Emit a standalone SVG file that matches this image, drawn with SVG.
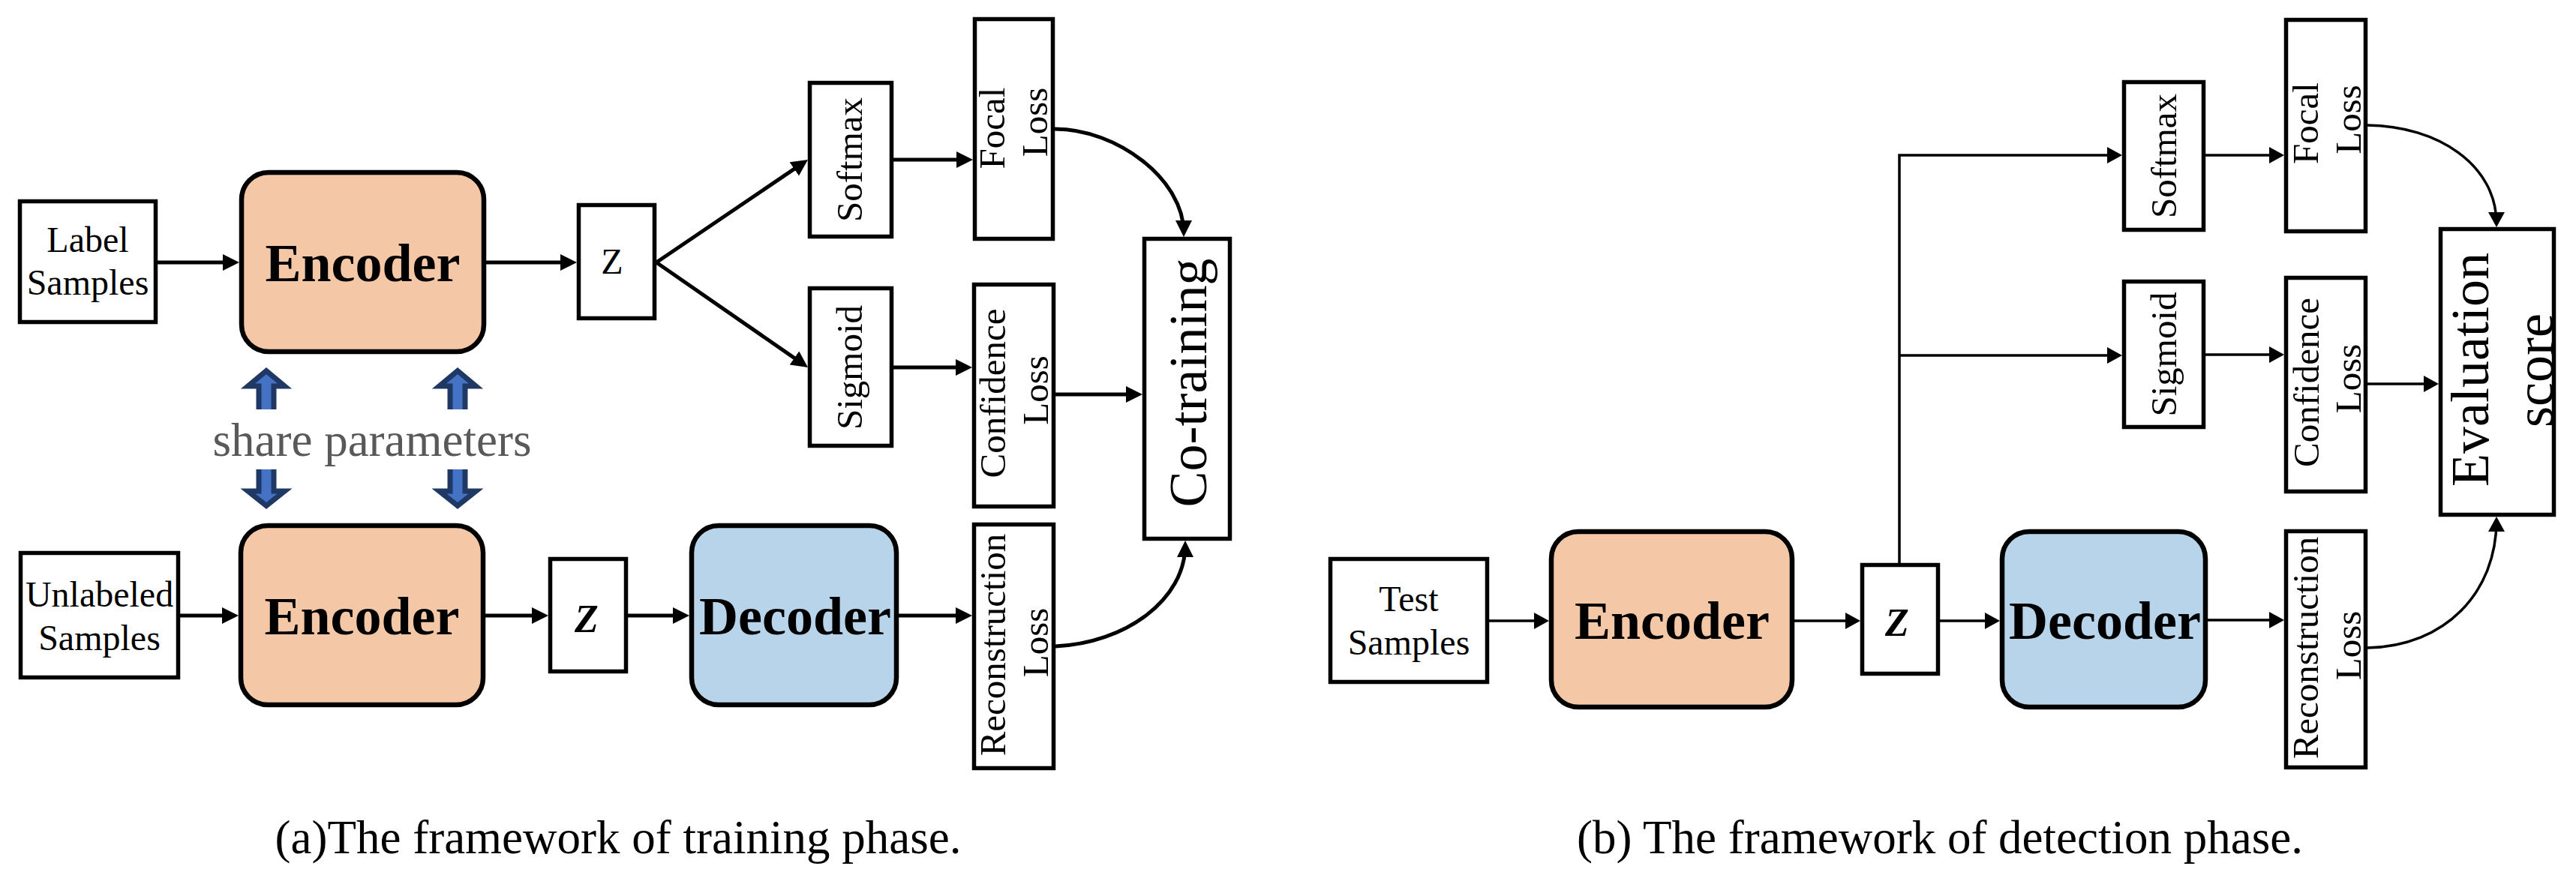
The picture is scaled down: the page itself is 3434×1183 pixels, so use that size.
<svg xmlns="http://www.w3.org/2000/svg" width="3434" height="1183" viewBox="0 0 3434 1183">
<style>
.box{fill:#fff;stroke:#000;stroke-width:5.5}
.rbox{stroke:#000;stroke-width:6.5}
.enc{fill:#F4C7A7}
.dec{fill:#B8D4EA}
text{font-family:"Liberation Serif","Times New Roman",serif;fill:#000}
.t{font-size:48px}
.v{font-size:49px}
.big{font-size:72px;font-weight:bold}
.huge{font-size:72px}
.cap{font-size:63px}
.share{font-size:63px;fill:#595959}
.conn path{fill:none;stroke:#000}
.l{stroke-width:5}
.r{stroke-width:3.5}
.blue{fill:#4472C4;stroke:#1F3864;stroke-width:7;stroke-linejoin:miter}
</style>
<defs>
<marker id="ah" markerUnits="userSpaceOnUse" markerWidth="22" markerHeight="22" viewBox="0 0 22 22" refX="16" refY="11" orient="auto">
<path d="M0,0 L22,11 L0,22 z" fill="#000"/>
</marker>
<marker id="ahs" markerUnits="userSpaceOnUse" markerWidth="20" markerHeight="22" viewBox="0 0 20 22" refX="15" refY="11" orient="auto">
<path d="M0,0 L20,11 L0,22 z" fill="#000"/>
</marker>
</defs>
<rect width="3434" height="1183" fill="#fff"/>

<!-- Training phase nodes -->
<g id="label-samples">
<rect class="box" x="26.5" y="268.5" width="181" height="161"/>
<text class="t" x="117" y="336" text-anchor="middle">Label</text>
<text class="t" x="117" y="393" text-anchor="middle">Samples</text>
</g>
<g id="encoder1">
<rect class="rbox enc" x="322" y="230" width="323" height="239" rx="36"/>
<text class="big" x="483.5" y="375" text-anchor="middle">Encoder</text>
</g>
<g id="z1">
<rect class="box" x="771.5" y="273.5" width="101" height="151"/>
<text class="t" x="816" y="365" text-anchor="middle">Z</text>
</g>
<g id="softmax1">
<rect class="box" x="1079.5" y="110.5" width="109" height="205"/>
<text class="v" transform="translate(1134,213) rotate(-90)" x="0" y="15" text-anchor="middle">Softmax</text>
</g>
<g id="sigmoid1">
<rect class="box" x="1079.5" y="384.5" width="109" height="210"/>
<text class="v" transform="translate(1134,490) rotate(-90)" x="0" y="15" text-anchor="middle">Sigmoid</text>
</g>
<g id="focal1">
<rect class="box" x="1299.5" y="25.5" width="104" height="293"/>
<text class="v" transform="translate(1351.5,172) rotate(-90)" text-anchor="middle"><tspan x="1" y="-13">Focal</tspan><tspan x="9" y="44">Loss</tspan></text>
</g>
<g id="confidence1">
<rect class="box" x="1298.5" y="379.5" width="106" height="296"/>
<text class="v" transform="translate(1351.5,527.5) rotate(-90)" text-anchor="middle"><tspan x="3" y="-12">Confidence</tspan><tspan x="7" y="45">Loss</tspan></text>
</g>
<g id="reconstruction1">
<rect class="box" x="1298.5" y="699.5" width="106" height="325"/>
<text class="v" transform="translate(1351.5,862) rotate(-90)" text-anchor="middle"><tspan x="2" y="-12">Reconstruction</tspan><tspan x="5" y="45">Loss</tspan></text>
</g>
<g id="co-training">
<rect class="box" x="1525.5" y="318.5" width="114" height="400"/>
<text class="huge" transform="translate(1582.5,518.5) rotate(-90)" x="8" y="25" text-anchor="middle">Co-training</text>
</g>
<g id="unlabeled-samples">
<rect class="box" x="27.5" y="737.5" width="210" height="166"/>
<text class="t" x="132.5" y="809" text-anchor="middle">Unlabeled</text>
<text class="t" x="132.5" y="867" text-anchor="middle">Samples</text>
</g>
<g id="encoder2">
<rect class="rbox enc" x="321" y="701" width="323" height="239" rx="36"/>
<text class="big" x="482.5" y="846" text-anchor="middle">Encoder</text>
</g>
<g id="z2">
<rect class="box" x="733.5" y="745.5" width="101" height="150"/>
<text x="782" y="843" text-anchor="middle" style="font-size:52px;font-style:italic;font-weight:bold">Z</text>
</g>
<g id="decoder1">
<rect class="rbox dec" x="922" y="701" width="273" height="239" rx="36"/>
<text class="big" x="1060" y="846" text-anchor="middle">Decoder</text>
</g>
<g id="share-parameters">
<path class="blue" d="M345,546 L345,515 L330.5,515 L355,494.5 L379.5,515 L365,515 L365,546"/>
<path class="blue" d="M600,546 L600,515 L585.5,515 L610,494.5 L634.5,515 L620,515 L620,546"/>
<path class="blue" d="M345,626 L345,655 L330.5,655 L355,674.5 L379.5,655 L365,655 L365,626"/>
<path class="blue" d="M600,626 L600,655 L585.5,655 L610,674.5 L634.5,655 L620,655 L620,626"/>
<text class="share" x="496" y="608" text-anchor="middle">share parameters</text>
</g>

<!-- Detection phase nodes -->
<g id="test-samples">
<rect class="box" x="1773.5" y="745.5" width="209" height="164"/>
<text class="t" x="1878" y="815" text-anchor="middle">Test</text>
<text class="t" x="1878" y="873" text-anchor="middle">Samples</text>
</g>
<g id="encoder3">
<rect class="rbox enc" x="2068" y="709" width="321" height="234" rx="36"/>
<text class="big" x="2229" y="852" text-anchor="middle">Encoder</text>
</g>
<g id="z3">
<rect class="box" x="2482.5" y="753.5" width="101" height="145"/>
<text x="2529" y="848" text-anchor="middle" style="font-size:52px;font-style:italic;font-weight:bold">Z</text>
</g>
<g id="decoder2">
<rect class="rbox dec" x="2669" y="709" width="271" height="234" rx="36"/>
<text class="big" x="2806" y="852" text-anchor="middle">Decoder</text>
</g>
<g id="softmax2">
<rect class="box" x="2831.5" y="109.5" width="106" height="197"/>
<text class="v" transform="translate(2884.5,208) rotate(-90)" x="0" y="16" text-anchor="middle">Softmax</text>
</g>
<g id="sigmoid2">
<rect class="box" x="2831.5" y="375.5" width="106" height="194"/>
<text class="v" transform="translate(2884.5,472.5) rotate(-90)" x="0" y="16" text-anchor="middle">Sigmoid</text>
</g>
<g id="focal2">
<rect class="box" x="3047.5" y="26.5" width="106" height="282"/>
<text class="v" transform="translate(3100.5,167.5) rotate(-90)" text-anchor="middle"><tspan x="3" y="-11">Focal</tspan><tspan x="8" y="46">Loss</tspan></text>
</g>
<g id="confidence2">
<rect class="box" x="3047.5" y="370.5" width="106" height="285"/>
<text class="v" transform="translate(3100.5,513) rotate(-90)" text-anchor="middle"><tspan x="3" y="-10">Confidence</tspan><tspan x="8" y="46">Loss</tspan></text>
</g>
<g id="reconstruction2">
<rect class="box" x="3047.5" y="708.5" width="106" height="315"/>
<text class="v" transform="translate(3100.5,866) rotate(-90)" text-anchor="middle"><tspan x="2" y="-11">Reconstruction</tspan><tspan x="5" y="46">Loss</tspan></text>
</g>
<g id="evaluation-score">
<rect class="box" x="3253.5" y="305.5" width="151" height="381"/>
<text class="huge" transform="translate(3329.5,496) rotate(-90)" text-anchor="middle"><tspan x="3" y="-13">Evaluation</tspan><tspan x="2" y="73">score</tspan></text>
</g>

<!-- Connectors -->
<g id="connectors" class="conn">
<g class="l">
<path d="M210,350 H313" marker-end="url(#ah)"/>
<path d="M648,350 H763" marker-end="url(#ah)"/>
<path d="M875,350 L1072,216.4" marker-end="url(#ah)"/>
<path d="M875,350 L1072.1,486.6" marker-end="url(#ah)"/>
<path d="M1191,213 H1291" marker-end="url(#ah)"/>
<path d="M1191,490 H1290" marker-end="url(#ah)"/>
<path d="M1406,172 C1490,172 1578,240 1578,310" marker-end="url(#ah)"/>
<path d="M1407,526 H1517" marker-end="url(#ah)"/>
<path d="M240,821 H312" marker-end="url(#ah)"/>
<path d="M647,821 H725" marker-end="url(#ah)"/>
<path d="M837,821 H913" marker-end="url(#ah)"/>
<path d="M1198,821 H1290" marker-end="url(#ah)"/>
<path d="M1407,862 C1500,858 1580,800 1580,727" marker-end="url(#ah)"/>
</g>
<g class="r">
<path d="M1985,828 H2060" marker-end="url(#ahs)"/>
<path d="M2392,828 H2475" marker-end="url(#ahs)"/>
<path d="M2586,828 H2661" marker-end="url(#ahs)"/>
<path d="M2943,827 H3040" marker-end="url(#ahs)"/>
<path d="M2532,751 V207 H2824" marker-end="url(#ahs)"/>
<path d="M2532,474 H2824" marker-end="url(#ahs)"/>
<path d="M2940,207 H3040" marker-end="url(#ahs)"/>
<path d="M2940,473 H3040" marker-end="url(#ahs)"/>
<path d="M3156,512 H3246" marker-end="url(#ahs)"/>
<path d="M3156,167 C3250,168 3328,220 3328,298" marker-end="url(#ahs)"/>
<path d="M3156,864 C3260,862 3328,790 3328,694" marker-end="url(#ahs)"/>
</g>
</g>

<text class="cap" x="824" y="1138" text-anchor="middle">(a)The framework of training phase.</text>
<text class="cap" x="2586" y="1138" text-anchor="middle">(b) The framework of detection phase.</text>
</svg>
